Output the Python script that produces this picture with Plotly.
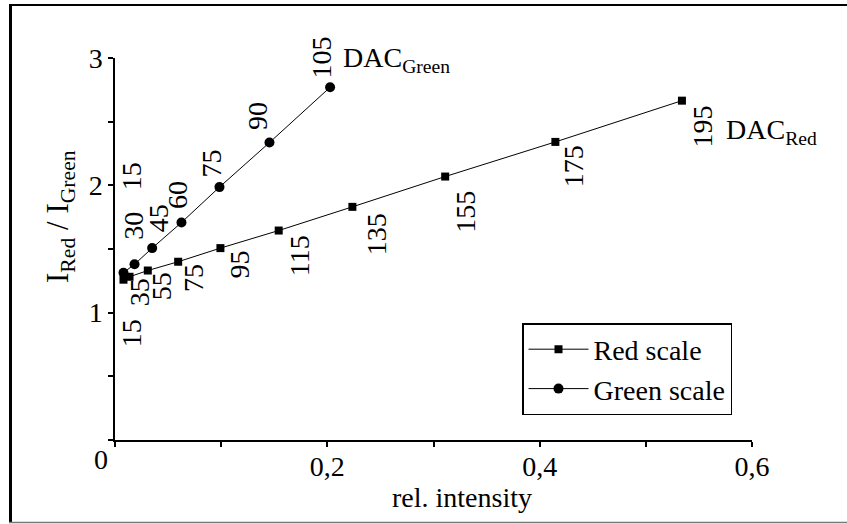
import plotly.graph_objects as go

# ---- data ----
red_dac = [15, 35, 55, 75, 95, 115, 135, 155, 175, 195]
red_x = [0.008, 0.0137, 0.0309, 0.0595, 0.0993, 0.1542, 0.2236, 0.311, 0.4148, 0.534]
red_y = [1.259, 1.282, 1.331, 1.40, 1.507, 1.645, 1.831, 2.069, 2.341, 2.665]

green_dac = [15, 30, 45, 60, 75, 90, 105]
green_x = [0.008, 0.0184, 0.035, 0.0626, 0.0984, 0.1455, 0.2026]
green_y = [1.314, 1.380, 1.507, 1.708, 1.986, 2.336, 2.770]

x_tickvals = [0, 0.2, 0.4, 0.6]
x_ticktext = ["", "0,2", "0,4", "0,6"]
y_tickvals = [0, 1, 2, 3]
y_ticktext = ["", "1", "2", "3"]

# ---- label placement (pixel offsets from each point) ----
red_label_shift = [(8, -53), (10, -16), (14, -16), (16, -16), (19, -16),
                   (21, -25), (24, -27), (20, -35), (19, -24), (21, -26)]
green_label_shift = [(8, 97), (-1, 38), (6, 30), (-4, 28), (-8, 24), (-12, 27), (-9, 30)]

FONT = "Liberation Serif, Times New Roman, serif"
FS = 28
FS_LEG = 28

fig = go.Figure()
fig.add_trace(go.Scatter(
    x=red_x, y=red_y, mode="lines+markers", name="Red scale",
    line=dict(color="black", width=1),
    marker=dict(symbol="square", size=8, color="black"),
))
fig.add_trace(go.Scatter(
    x=green_x, y=green_y, mode="lines+markers", name="Green scale",
    line=dict(color="black", width=1),
    marker=dict(symbol="circle", size=10, color="black"),
))

annotations = []
for xv, yv, d, (dx, dy) in zip(red_x, red_y, red_dac, red_label_shift):
    annotations.append(dict(x=xv, y=yv, xref="x", yref="y", text=str(d), showarrow=False,
                            textangle=-90, xshift=dx, yshift=dy,
                            font=dict(family=FONT, size=FS, color="black")))
for xv, yv, d, (dx, dy) in zip(green_x, green_y, green_dac, green_label_shift):
    annotations.append(dict(x=xv, y=yv, xref="x", yref="y", text=str(d), showarrow=False,
                            textangle=-90, xshift=dx, yshift=dy,
                            font=dict(family=FONT, size=FS, color="black")))

# DAC labels next to the last points
annotations.append(dict(x=green_x[-1], y=green_y[-1], xref="x", yref="y",
                        text="DAC<sub>Green</sub>", showarrow=False, xanchor="left",
                        yanchor="middle", xshift=11, yshift=28,
                        font=dict(family=FONT, size=FS, color="black")))
annotations.append(dict(x=red_x[-1], y=red_y[-1], xref="x", yref="y",
                        text="DAC<sub>Red</sub>", showarrow=False, xanchor="left",
                        yanchor="middle", xshift=42, yshift=-31,
                        font=dict(family=FONT, size=FS, color="black")))

# outer frame (left, top, bottom) helpers: pixel -> paper
W, H = 637.0, 382.0
L, T = 115.0, 58.0
def px(xp):
    return (xp - L) / W
def py(yp):
    return (T + H - yp) / H

# origin "0" label, slightly left of the axis crossing
annotations.append(dict(x=px(101), y=py(459), xref="paper", yref="paper", text="0", showarrow=False,
                        xanchor="center", yanchor="middle",
                        font=dict(family=FONT, size=FS, color="black")))

# x-axis title
annotations.append(dict(x=px(462), y=py(497), xref="paper", yref="paper",
                        text="rel. intensity", showarrow=False,
                        xanchor="center", yanchor="middle",
                        font=dict(family=FONT, size=FS, color="black")))

# y-axis title
annotations.append(dict(x=px(60), y=py(217), xref="paper", yref="paper",
                        text="I<sub>Red</sub> / I<sub>Green</sub>", showarrow=False,
                        textangle=-90, xanchor="center", yanchor="middle",
                        font=dict(family=FONT, size=31, color="black")))

shapes = [
    dict(type="line", xref="paper", yref="paper", x0=px(10.5), x1=px(10.5), y0=py(4), y1=py(523),
         line=dict(color="black", width=3)),
    dict(type="line", xref="paper", yref="paper", x0=px(9), x1=px(850), y0=py(5), y1=py(5),
         line=dict(color="black", width=2)),
    dict(type="line", xref="paper", yref="paper", x0=px(9), x1=px(850), y0=py(522.5), y1=py(522.5),
         line=dict(color="#777777", width=1.5)),
]

fig.update_layout(
    width=847, height=524,
    margin=dict(l=115, r=95, t=58, b=84),
    paper_bgcolor="white", plot_bgcolor="white",
    font=dict(family=FONT, size=FS, color="black"),
    showlegend=True,
    legend=dict(x=px(522), y=py(323), xanchor="left", yanchor="top",
                bordercolor="black", borderwidth=1.5, bgcolor="white",
                font=dict(family=FONT, size=FS_LEG), tracegroupgap=0,
                itemwidth=60),
    annotations=annotations,
    shapes=shapes,
    xaxis=dict(range=[0, 0.6], showgrid=False, zeroline=False,
               showline=True, linecolor="black", linewidth=1.5,
               ticks="outside", ticklen=5, tickcolor="black", tickwidth=1.5,
               tickvals=x_tickvals, ticktext=x_ticktext, ticklabelstandoff=-4,
               minor=dict(ticks="outside", dtick=0.1, ticklen=5, tickcolor="black", tickwidth=1.5),
               tickfont=dict(family=FONT, size=FS)),
    yaxis=dict(range=[0, 3], showgrid=False, zeroline=False,
               showline=True, linecolor="black", linewidth=1.5,
               ticks="outside", ticklen=5, tickcolor="black", tickwidth=1.5,
               tickvals=y_tickvals, ticktext=y_ticktext,
               minor=dict(ticks="outside", dtick=0.5, ticklen=5, tickcolor="black", tickwidth=1.5),
               tickfont=dict(family=FONT, size=FS)),
)

fig.write_html("out.html", config={"displayModeBar": False},
               post_script="document.body.style.margin='0';")
